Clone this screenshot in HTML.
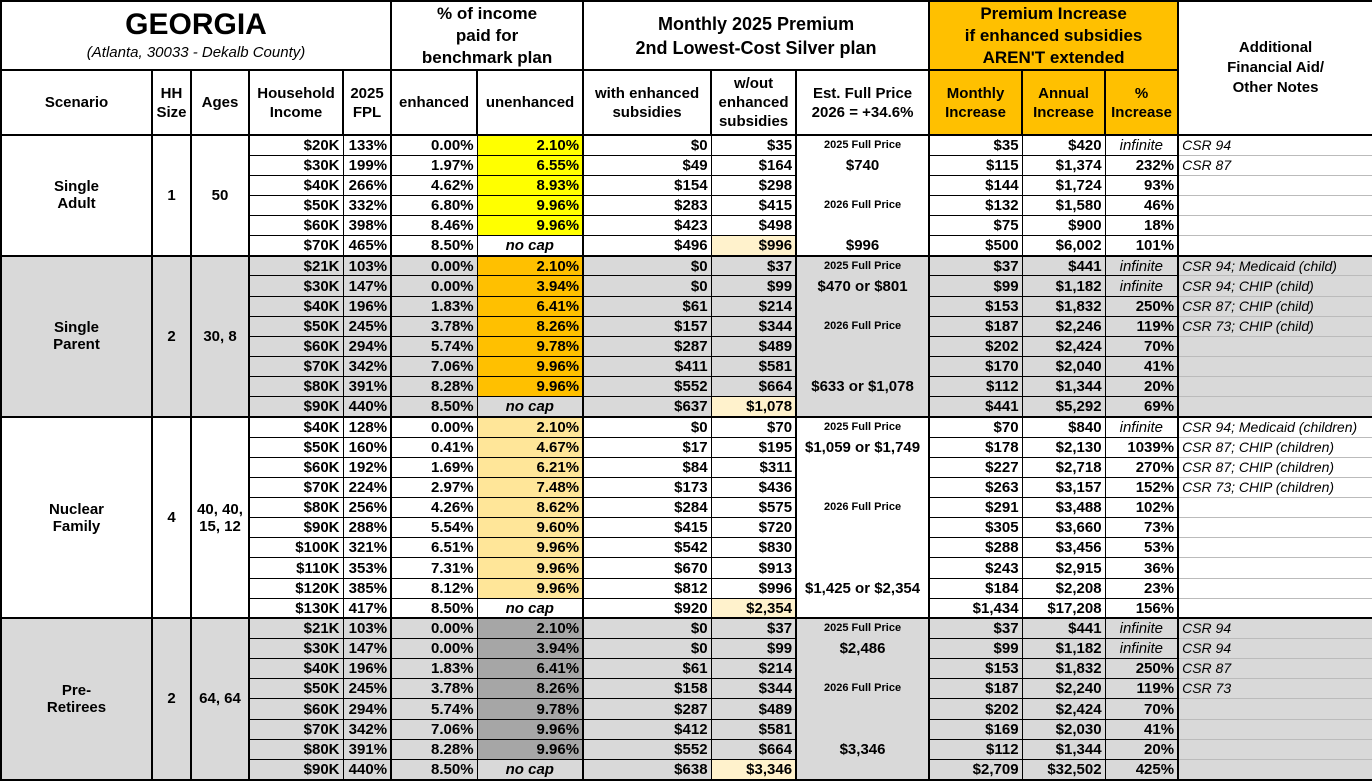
<!DOCTYPE html>
<html><head><meta charset="utf-8"><style>
body{margin:0;background:#fff;}
table{border-collapse:collapse;table-layout:fixed;width:1372px;font-family:"Liberation Sans",Arial,sans-serif;font-weight:bold;font-size:15px;color:#000;}
td{border:1px solid #000;padding:0 3px;text-align:right;white-space:nowrap;overflow:hidden;line-height:17px;}
tr.d{height:20.15px;}
tr.h1{height:69px;} tr.h2{height:65px;}
.h td{text-align:center;border:2px solid #000;}
.c{text-align:center;}
.o{background:#ffc000;}
.y{background:#ffff00;}
.t{background:#ffe699;}
.dg{background:#a6a6a6;}
.cr{background:#fff2cc;}
tr.gr td{background:#d9d9d9;}
tr.gr td.o{background:#ffc000;} tr.gr td.dg{background:#a6a6a6;} tr.gr td.cr{background:#fff2cc;}
.e{text-align:center;border-top:none;border-bottom:none;border-left:2px solid #000;border-right:2px solid #000;}
.s{font-size:11px;}
.n{text-align:left;font-weight:normal;font-style:italic;font-size:14px;border-top:1px solid #bbb;border-bottom:1px solid #bbb;border-left:2px solid #000;}
.i{text-align:center;font-weight:normal;font-style:italic;}
.nc{text-align:center;font-style:italic;}
tr.g td{border-top:2px solid #000;}
.b2{border-left:2px solid #000;}
.sc{text-align:center;border:2px solid #000;}
</style></head><body>
<table>
<colgroup><col style="width:151px"><col style="width:39px"><col style="width:58px"><col style="width:94px"><col style="width:48px"><col style="width:86px"><col style="width:106px"><col style="width:128px"><col style="width:85px"><col style="width:133px"><col style="width:93px"><col style="width:83px"><col style="width:73px"><col style="width:195px"></colgroup>
<tr class="h1 h">
<td colspan="5" style="line-height:normal"><div style="font-size:30px;line-height:34px">GEORGIA</div><div style="font-size:15px;font-weight:normal;font-style:italic;line-height:22px">(Atlanta, 30033 - Dekalb County)</div></td>
<td colspan="2" style="font-size:17px;line-height:22px">% of income<br>paid for<br>benchmark plan</td>
<td colspan="3" style="font-size:18px;line-height:24px">Monthly 2025 Premium<br>2nd Lowest-Cost Silver plan</td>
<td colspan="3" class="o" style="font-size:17px;line-height:22px">Premium Increase<br>if enhanced subsidies<br>AREN'T extended</td>
<td rowspan="2" style="font-size:15px;line-height:20px;vertical-align:middle">Additional<br>Financial Aid/<br>Other Notes</td>
</tr>
<tr class="h2 h">
<td>Scenario</td><td style="line-height:19px">HH<br>Size</td><td>Ages</td><td style="line-height:19px">Household<br>Income</td><td style="line-height:19px">2025<br>FPL</td><td>enhanced</td><td>unenhanced</td><td style="line-height:19px">with enhanced<br>subsidies</td><td style="line-height:19px">w/out<br>enhanced<br>subsidies</td><td style="line-height:19px">Est. Full Price<br>2026 = +34.6%</td><td class="o" style="line-height:19px">Monthly<br>Increase</td><td class="o" style="line-height:19px">Annual<br>Increase</td><td class="o" style="line-height:19px">%<br>Increase</td>
</tr>
<!-- Single Adult -->
<tr class="d g"><td rowspan="6" class="sc">Single<br>Adult</td><td rowspan="6" class="sc">1</td><td rowspan="6" class="sc">50</td><td>$20K</td><td>133%</td><td class="b2">0.00%</td><td class="y">2.10%</td><td class="b2">$0</td><td>$35</td><td class="e s">2025 Full Price</td><td>$35</td><td>$420</td><td class="i">infinite</td><td class="n">CSR 94</td></tr>
<tr class="d"><td>$30K</td><td>199%</td><td class="b2">1.97%</td><td class="y">6.55%</td><td class="b2">$49</td><td>$164</td><td class="e">$740</td><td>$115</td><td>$1,374</td><td>232%</td><td class="n">CSR 87</td></tr>
<tr class="d"><td>$40K</td><td>266%</td><td class="b2">4.62%</td><td class="y">8.93%</td><td class="b2">$154</td><td>$298</td><td class="e"></td><td>$144</td><td>$1,724</td><td>93%</td><td class="n"></td></tr>
<tr class="d"><td>$50K</td><td>332%</td><td class="b2">6.80%</td><td class="y">9.96%</td><td class="b2">$283</td><td>$415</td><td class="e s">2026 Full Price</td><td>$132</td><td>$1,580</td><td>46%</td><td class="n"></td></tr>
<tr class="d"><td>$60K</td><td>398%</td><td class="b2">8.46%</td><td class="y">9.96%</td><td class="b2">$423</td><td>$498</td><td class="e"></td><td>$75</td><td>$900</td><td>18%</td><td class="n"></td></tr>
<tr class="d"><td>$70K</td><td>465%</td><td class="b2">8.50%</td><td class="nc">no cap</td><td class="b2">$496</td><td class="cr">$996</td><td class="e">$996</td><td>$500</td><td>$6,002</td><td>101%</td><td class="n"></td></tr>
<!-- Single Parent -->
<tr class="d g gr"><td rowspan="8" class="sc">Single<br>Parent</td><td rowspan="8" class="sc">2</td><td rowspan="8" class="sc">30, 8</td><td>$21K</td><td>103%</td><td class="b2">0.00%</td><td class="o">2.10%</td><td class="b2">$0</td><td>$37</td><td class="e s">2025 Full Price</td><td>$37</td><td>$441</td><td class="i">infinite</td><td class="n">CSR 94; Medicaid (child)</td></tr>
<tr class="d gr"><td>$30K</td><td>147%</td><td class="b2">0.00%</td><td class="o">3.94%</td><td class="b2">$0</td><td>$99</td><td class="e">$470 or $801</td><td>$99</td><td>$1,182</td><td class="i">infinite</td><td class="n">CSR 94; CHIP (child)</td></tr>
<tr class="d gr"><td>$40K</td><td>196%</td><td class="b2">1.83%</td><td class="o">6.41%</td><td class="b2">$61</td><td>$214</td><td class="e"></td><td>$153</td><td>$1,832</td><td>250%</td><td class="n">CSR 87; CHIP (child)</td></tr>
<tr class="d gr"><td>$50K</td><td>245%</td><td class="b2">3.78%</td><td class="o">8.26%</td><td class="b2">$157</td><td>$344</td><td class="e s">2026 Full Price</td><td>$187</td><td>$2,246</td><td>119%</td><td class="n">CSR 73; CHIP (child)</td></tr>
<tr class="d gr"><td>$60K</td><td>294%</td><td class="b2">5.74%</td><td class="o">9.78%</td><td class="b2">$287</td><td>$489</td><td class="e"></td><td>$202</td><td>$2,424</td><td>70%</td><td class="n"></td></tr>
<tr class="d gr"><td>$70K</td><td>342%</td><td class="b2">7.06%</td><td class="o">9.96%</td><td class="b2">$411</td><td>$581</td><td class="e"></td><td>$170</td><td>$2,040</td><td>41%</td><td class="n"></td></tr>
<tr class="d gr"><td>$80K</td><td>391%</td><td class="b2">8.28%</td><td class="o">9.96%</td><td class="b2">$552</td><td>$664</td><td class="e">$633 or $1,078</td><td>$112</td><td>$1,344</td><td>20%</td><td class="n"></td></tr>
<tr class="d gr"><td>$90K</td><td>440%</td><td class="b2">8.50%</td><td class="nc">no cap</td><td class="b2">$637</td><td class="cr">$1,078</td><td class="e"></td><td>$441</td><td>$5,292</td><td>69%</td><td class="n"></td></tr>
<!-- Nuclear Family -->
<tr class="d g"><td rowspan="10" class="sc">Nuclear<br>Family</td><td rowspan="10" class="sc">4</td><td rowspan="10" class="sc">40, 40,<br>15, 12</td><td>$40K</td><td>128%</td><td class="b2">0.00%</td><td class="t">2.10%</td><td class="b2">$0</td><td>$70</td><td class="e s">2025 Full Price</td><td>$70</td><td>$840</td><td class="i">infinite</td><td class="n">CSR 94; Medicaid (children)</td></tr>
<tr class="d"><td>$50K</td><td>160%</td><td class="b2">0.41%</td><td class="t">4.67%</td><td class="b2">$17</td><td>$195</td><td class="e">$1,059 or $1,749</td><td>$178</td><td>$2,130</td><td>1039%</td><td class="n">CSR 87; CHIP (children)</td></tr>
<tr class="d"><td>$60K</td><td>192%</td><td class="b2">1.69%</td><td class="t">6.21%</td><td class="b2">$84</td><td>$311</td><td class="e"></td><td>$227</td><td>$2,718</td><td>270%</td><td class="n">CSR 87; CHIP (children)</td></tr>
<tr class="d"><td>$70K</td><td>224%</td><td class="b2">2.97%</td><td class="t">7.48%</td><td class="b2">$173</td><td>$436</td><td class="e"></td><td>$263</td><td>$3,157</td><td>152%</td><td class="n">CSR 73; CHIP (children)</td></tr>
<tr class="d"><td>$80K</td><td>256%</td><td class="b2">4.26%</td><td class="t">8.62%</td><td class="b2">$284</td><td>$575</td><td class="e s">2026 Full Price</td><td>$291</td><td>$3,488</td><td>102%</td><td class="n"></td></tr>
<tr class="d"><td>$90K</td><td>288%</td><td class="b2">5.54%</td><td class="t">9.60%</td><td class="b2">$415</td><td>$720</td><td class="e"></td><td>$305</td><td>$3,660</td><td>73%</td><td class="n"></td></tr>
<tr class="d"><td>$100K</td><td>321%</td><td class="b2">6.51%</td><td class="t">9.96%</td><td class="b2">$542</td><td>$830</td><td class="e"></td><td>$288</td><td>$3,456</td><td>53%</td><td class="n"></td></tr>
<tr class="d"><td>$110K</td><td>353%</td><td class="b2">7.31%</td><td class="t">9.96%</td><td class="b2">$670</td><td>$913</td><td class="e"></td><td>$243</td><td>$2,915</td><td>36%</td><td class="n"></td></tr>
<tr class="d"><td>$120K</td><td>385%</td><td class="b2">8.12%</td><td class="t">9.96%</td><td class="b2">$812</td><td>$996</td><td class="e">$1,425 or $2,354</td><td>$184</td><td>$2,208</td><td>23%</td><td class="n"></td></tr>
<tr class="d"><td>$130K</td><td>417%</td><td class="b2">8.50%</td><td class="nc">no cap</td><td class="b2">$920</td><td class="cr">$2,354</td><td class="e"></td><td>$1,434</td><td>$17,208</td><td>156%</td><td class="n"></td></tr>
<!-- Pre-Retirees -->
<tr class="d g gr"><td rowspan="8" class="sc">Pre-<br>Retirees</td><td rowspan="8" class="sc">2</td><td rowspan="8" class="sc">64, 64</td><td>$21K</td><td>103%</td><td class="b2">0.00%</td><td class="dg">2.10%</td><td class="b2">$0</td><td>$37</td><td class="e s">2025 Full Price</td><td>$37</td><td>$441</td><td class="i">infinite</td><td class="n">CSR 94</td></tr>
<tr class="d gr"><td>$30K</td><td>147%</td><td class="b2">0.00%</td><td class="dg">3.94%</td><td class="b2">$0</td><td>$99</td><td class="e">$2,486</td><td>$99</td><td>$1,182</td><td class="i">infinite</td><td class="n">CSR 94</td></tr>
<tr class="d gr"><td>$40K</td><td>196%</td><td class="b2">1.83%</td><td class="dg">6.41%</td><td class="b2">$61</td><td>$214</td><td class="e"></td><td>$153</td><td>$1,832</td><td>250%</td><td class="n">CSR 87</td></tr>
<tr class="d gr"><td>$50K</td><td>245%</td><td class="b2">3.78%</td><td class="dg">8.26%</td><td class="b2">$158</td><td>$344</td><td class="e s">2026 Full Price</td><td>$187</td><td>$2,240</td><td>119%</td><td class="n">CSR 73</td></tr>
<tr class="d gr"><td>$60K</td><td>294%</td><td class="b2">5.74%</td><td class="dg">9.78%</td><td class="b2">$287</td><td>$489</td><td class="e"></td><td>$202</td><td>$2,424</td><td>70%</td><td class="n"></td></tr>
<tr class="d gr"><td>$70K</td><td>342%</td><td class="b2">7.06%</td><td class="dg">9.96%</td><td class="b2">$412</td><td>$581</td><td class="e"></td><td>$169</td><td>$2,030</td><td>41%</td><td class="n"></td></tr>
<tr class="d gr"><td>$80K</td><td>391%</td><td class="b2">8.28%</td><td class="dg">9.96%</td><td class="b2">$552</td><td>$664</td><td class="e">$3,346</td><td>$112</td><td>$1,344</td><td>20%</td><td class="n"></td></tr>
<tr class="d gr" style="border-bottom:2px solid #000"><td>$90K</td><td>440%</td><td class="b2">8.50%</td><td class="nc">no cap</td><td class="b2">$638</td><td class="cr">$3,346</td><td class="e" style="border-bottom:2px solid #000"></td><td>$2,709</td><td>$32,502</td><td>425%</td><td class="n"></td></tr>
</table>
</body></html>
